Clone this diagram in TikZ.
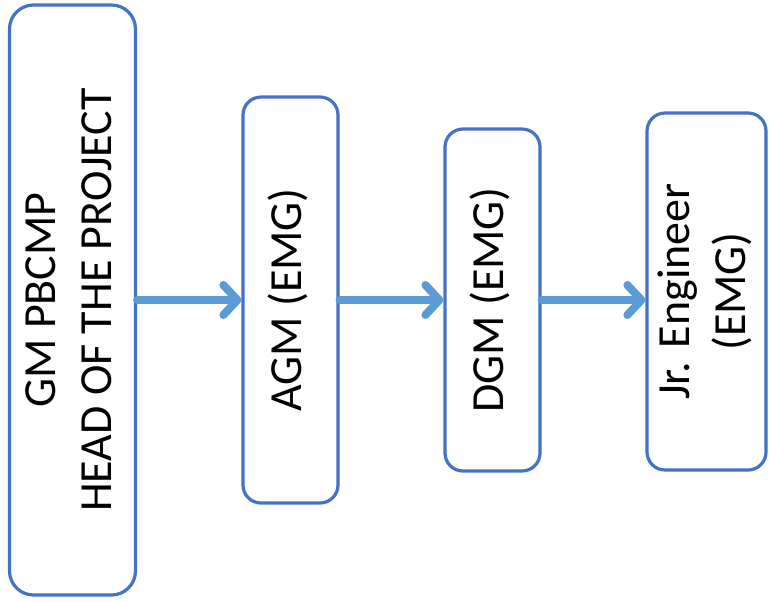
\documentclass[tikz,border=0pt]{standalone}
\usepackage{fontspec}
\setmainfont{Carlito}
\usetikzlibrary{arrows.meta}
\definecolor{boxblue}{RGB}{68,114,196}
\definecolor{arrowblue}{RGB}{91,155,213}
\def\vlabel#1{\rotatebox{90}{\begin{tabular}{@{}c@{}}#1\end{tabular}}}

\begin{document}
\begin{tikzpicture}[x=0.5pt,y=-0.5pt,auto,
		font=\fontsize{23}{28}\selectfont]
		\tikzstyle{post}=[draw=boxblue,line width=1.6pt,rounded corners=9pt,inner sep=0pt]
		\tikzstyle{link}=[arrowblue,line width=4pt,line cap=round,
			-{Straight Barb[length=7pt,width=15pt,round]}]
		
		\useasboundingbox (0,0) rectangle (769,601);
		
		\node[post,minimum width=63pt,minimum height=295pt,rounded corners=12pt] (GM) at (72.5,300) {\vlabel{GM PBCMP\\HEAD OF THE PROJECT}};
		\node[post,minimum width=47.5pt,minimum height=203pt] (AGM) [right of=GM,node distance=109pt] {\vlabel{AGM (EMG)}};
		\node[post,minimum width=47.5pt,minimum height=171pt] (DGM) [right of=AGM,node distance=101pt] {\vlabel{DGM (EMG)}};
		\node[post,minimum width=59.5pt,minimum height=178.5pt] (JE) [right of=DGM,node distance=107pt,yshift=4.25pt] {\vlabel{Jr. Engineer\\(EMG)}};
		
		\path
		(GM) edge [link] (AGM)
		(AGM) edge [link] (DGM)
		(DGM.east) edge [link] (JE.west |- DGM.east);
	\end{tikzpicture}
\end{document}
